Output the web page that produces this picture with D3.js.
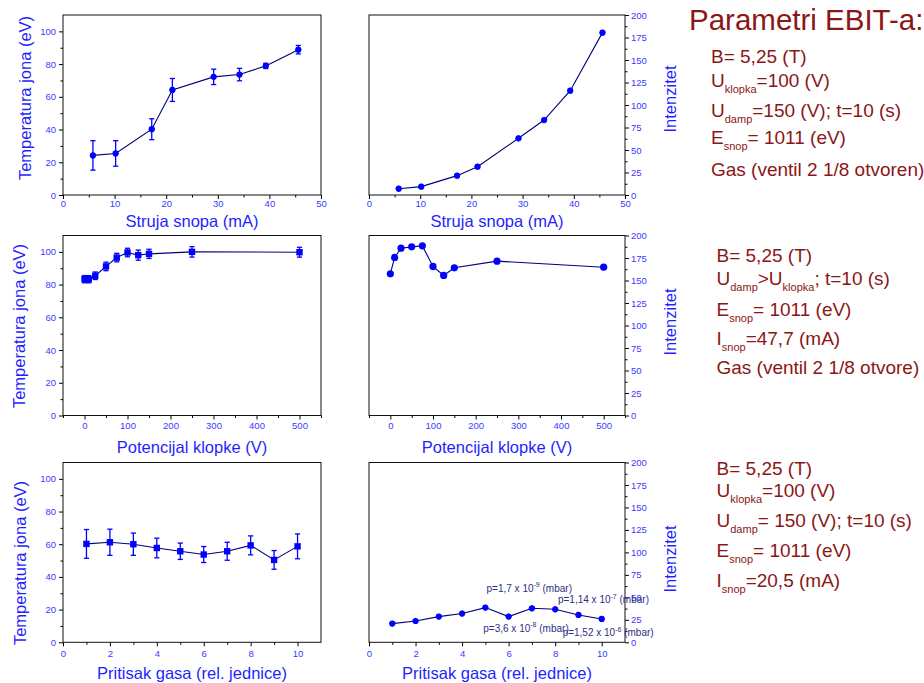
<!DOCTYPE html>
<html>
<head>
<meta charset="utf-8">
<script src="https://cdn.jsdelivr.net/npm/d3@7.9.0/dist/d3.min.js"></script>
<style>
  body { margin: 0; background: #fff; }
  svg { display: block; font-family: "Liberation Sans", Arial, sans-serif; }
</style>
</head>
<body>
<svg id="chart" width="924" height="683"></svg>
<script>
// Row 1: beam current
const strujaX = [5.8, 10.2, 17.2, 21.2, 29.2, 34.2, 39.3, 45.6];
const strujaTemp = [24.2, 25.4, 40.2, 64.2, 72.2, 73.6, 78.9, 88.8];
const strujaTempErr = [9.0, 7.8, 6.4, 7.0, 4.7, 3.8, 1.6, 2.6];
const strujaInt = [7.0, 9.3, 21.5, 31.5, 63.0, 83.3, 115.9, 180.4];

// Row 2: trap potential
const klopkaX = [0, 10, 25, 50, 75, 100, 125, 150, 250, 500];
const klopkaTemp = [83.3, 83.3, 85.4, 91.1, 96.5, 99.6, 98.0, 98.8, 100.0, 99.8];
const klopkaTempErr = [2.2, 2.2, 2.3, 2.6, 2.6, 2.6, 3.1, 2.8, 3.2, 3.0];
const klopkaInt = [157.4, 175.6, 185.9, 187.4, 188.5, 165.6, 155.6, 164.1, 171.5, 164.8];

// Row 3: gas pressure
const gasX = [1, 2, 3, 4, 5, 6, 7, 8, 9, 10];
const gasTemp = [60.2, 61.2, 60.0, 57.7, 55.7, 53.7, 55.7, 59.3, 50.4, 58.7];
const gasTempErr = [8.8, 8.0, 6.8, 6.0, 5.0, 4.9, 5.5, 5.8, 5.7, 7.6];
const gasInt = [20.8, 23.7, 28.6, 32.0, 38.6, 28.6, 37.8, 36.7, 30.4, 26.0];

// pressure notes on the last panel
const pressText = ["p=1,7 x 10", "p=1,14 x 10", "p=3,6 x 10", "p=1,52 x 10"];
const pressExp = ["-9", "-7", "-8", "-6"];
const pressAt = [[5.05, 56], [8.12, 43.7], [4.91, 11.8], [8.32, 7]];

const xTitles = ["Struja snopa (mA)", "Potencijal klopke (V)", "Pritisak gasa (rel. jednice)"];
const tempTitle = "Temperatura jona (eV)";
const intTitle = "Intenzitet";

const svg = d3.select("#chart");
const lineColor = "#00007a";
const markColor = "#0000ff";
const tickColor = "#3a3aff";
const titleColor = "#1f1fff";

const rows = [
  { top: 15, bottom: 195, xDom: [0, 50], xMaj: d3.range(0, 51, 10), xMin: d3.range(5, 50, 10), x: strujaX,
    temp: strujaTemp, err: strujaTempErr, inten: strujaInt, tShape: "diamond", iShape: "diamond",
    tickBase: 207, titleBase: 227, tTitleX: 25, tTitleY: 98, iTitleY: 99 },
  { top: 235.5, bottom: 415.5, xDom: [-50, 550], xMaj: d3.range(0, 501, 100), xMin: d3.range(-50, 551, 100), x: klopkaX,
    temp: klopkaTemp, err: klopkaTempErr, inten: klopkaInt, tShape: "square", iShape: "circle",
    tickBase: 429, titleBase: 453, tTitleX: 19, tTitleY: 326, iTitleY: 322 },
  { top: 462.5, bottom: 642.3, xDom: [0, 11], xMaj: d3.range(0, 11, 2), xMin: d3.range(1, 11, 2), x: gasX,
    temp: gasTemp, err: gasTempErr, inten: gasInt, tShape: "square", iShape: "diamond",
    tickBase: 657, titleBase: 679, tTitleX: 20, tTitleY: 563, iTitleY: 559 }
];

const cols = [{ left: 63, right: 321 }, { left: 369, right: 625 }];

function drawMarks(g, pts, shape) {
  pts.forEach(p => {
    if (shape === "square") {
      g.append("rect").attr("x", p[0] - 3.2).attr("y", p[1] - 3.2)
        .attr("width", 6.4).attr("height", 6.4).attr("fill", markColor);
    } else if (shape === "circle") {
      g.append("circle").attr("cx", p[0]).attr("cy", p[1]).attr("r", 3.6).attr("fill", markColor);
    } else {
      g.append("path").attr("d", d3.symbol(d3.symbolDiamond2, 26)())
        .attr("transform", `translate(${p[0]},${p[1]})`).attr("fill", markColor);
      g.append("circle").attr("cx", p[0]).attr("cy", p[1]).attr("r", 3.1).attr("fill", markColor);
    }
  });
}

function xAxis(g, x, row) {
  g.append("g").attr("transform", `translate(0,${row.bottom})`)
    .call(d3.axisBottom(x).tickValues(row.xMaj).tickSize(4).tickSizeOuter(0).tickPadding(3))
    .call(a => a.select(".domain").remove())
    .call(a => a.selectAll("text").attr("fill", tickColor).attr("font-size", 9.5)
      .attr("dy", null).attr("y", row.tickBase - row.bottom));
  g.append("g").attr("transform", `translate(0,${row.bottom})`)
    .call(d3.axisBottom(x).tickValues(row.xMin).tickSize(2.5).tickSizeOuter(0).tickFormat(""))
    .call(a => a.select(".domain").remove());
}

function frame(g, c, row) {
  g.append("rect").attr("x", c.left).attr("y", row.top)
    .attr("width", c.right - c.left).attr("height", row.bottom - row.top)
    .attr("fill", "none").attr("stroke", "#111").attr("stroke-width", 1);
}

rows.forEach((row, r) => {
  // left panel: ion temperature with error bars
  const cl = cols[0];
  const x = d3.scaleLinear().domain(row.xDom).range([cl.left, cl.right]);
  const y = d3.scaleLinear().domain([0, 110]).range([row.bottom, row.top]);
  const g = svg.append("g");

  g.append("g").attr("transform", `translate(${cl.left},0)`)
    .call(d3.axisLeft(y).tickValues(d3.range(0, 101, 20)).tickSize(4).tickSizeOuter(0).tickPadding(3))
    .call(a => a.select(".domain").remove())
    .call(a => a.selectAll("text").attr("fill", tickColor).attr("font-size", 9.5));
  g.append("g").attr("transform", `translate(${cl.left},0)`)
    .call(d3.axisLeft(y).tickValues(d3.range(10, 110, 20)).tickSize(2.5).tickSizeOuter(0).tickFormat(""))
    .call(a => a.select(".domain").remove());
  xAxis(g, x, row);

  const pts = row.x.map((v, i) => [x(v), y(row.temp[i])]);
  g.append("path").attr("d", d3.line()(pts)).attr("fill", "none")
    .attr("stroke", lineColor).attr("stroke-width", 1.1);

  row.x.forEach((v, i) => {
    const cx = x(v), y0 = y(row.temp[i] - row.err[i]), y1 = y(row.temp[i] + row.err[i]);
    g.append("line").attr("x1", cx).attr("x2", cx).attr("y1", y0).attr("y2", y1)
      .attr("stroke", markColor).attr("stroke-width", 1.3);
    [y0, y1].forEach(yy => g.append("line").attr("x1", cx - 2.6).attr("x2", cx + 2.6)
      .attr("y1", yy).attr("y2", yy).attr("stroke", markColor).attr("stroke-width", 1.3));
  });
  drawMarks(g, pts, row.tShape);
  frame(g, cl, row);

  g.append("text").attr("transform", `translate(${row.tTitleX},${row.tTitleY}) rotate(-90)`)
    .attr("text-anchor", "middle").attr("dy", "0.35em").attr("font-size", 16.5)
    .attr("fill", titleColor).text(tempTitle);
  g.append("text").attr("x", (cl.left + cl.right) / 2).attr("y", row.titleBase)
    .attr("text-anchor", "middle").attr("font-size", 16.5).attr("fill", titleColor).text(xTitles[r]);

  // right panel: intensity on right axis
  const cr = cols[1];
  const x2 = d3.scaleLinear().domain(row.xDom).range([cr.left, cr.right]);
  const y2 = d3.scaleLinear().domain([0, 200]).range([row.bottom, row.top]);
  const h = svg.append("g");

  h.append("g").attr("transform", `translate(${cr.right},0)`)
    .call(d3.axisRight(y2).tickValues(d3.range(0, 201, 25)).tickSize(4).tickSizeOuter(0).tickPadding(2))
    .call(a => a.select(".domain").remove())
    .call(a => a.selectAll("text").attr("fill", tickColor).attr("font-size", 9.5));
  h.append("g").attr("transform", `translate(${cr.right},0)`)
    .call(d3.axisRight(y2).tickValues(d3.range(12.5, 200, 25)).tickSize(2.5).tickSizeOuter(0).tickFormat(""))
    .call(a => a.select(".domain").remove());
  xAxis(h, x2, row);

  const pts2 = row.x.map((v, i) => [x2(v), y2(row.inten[i])]);
  h.append("path").attr("d", d3.line()(pts2)).attr("fill", "none")
    .attr("stroke", lineColor).attr("stroke-width", 1.1);
  drawMarks(h, pts2, row.iShape);
  frame(h, cr, row);

  h.append("text").attr("transform", `translate(670,${row.iTitleY}) rotate(-90)`)
    .attr("text-anchor", "middle").attr("dy", "0.35em").attr("font-size", 16.5)
    .attr("fill", titleColor).text(intTitle);
  h.append("text").attr("x", (cr.left + cr.right) / 2).attr("y", row.titleBase)
    .attr("text-anchor", "middle").attr("font-size", 16.5).attr("fill", titleColor).text(xTitles[r]);

  // pressure notes
  if (r === 2) {
    pressText.forEach((t, i) => {
      const tx = h.append("text").attr("x", x2(pressAt[i][0])).attr("y", y2(pressAt[i][1]))
        .attr("font-size", 10).attr("fill", "#2e2e86");
      tx.append("tspan").text(t);
      tx.append("tspan").attr("dy", -4.5).attr("font-size", 7).text(pressExp[i]);
      tx.append("tspan").attr("dy", 4.5).text(" (mbar)");
    });
  }
});

// right-hand parameter notes
const red = "#8b1616";
svg.append("text").attr("x", 689).attr("y", 29.5).attr("font-size", 29.5)
  .attr("fill", red).text("Parametri EBIT-a:");

const notes1 = [
  [["B= 5,25 (T)"]],
  [["U"], ["klopka", 1], ["=100 (V)"]],
  [["U"], ["damp", 1], ["=150 (V); t=10 (s)"]],
  [["E"], ["snop", 1], ["= 1011 (eV)"]],
  [["Gas (ventil 2 1/8 otvoren)"]]
];
const notes2 = [
  [["B= 5,25 (T)"]],
  [["U"], ["damp", 1], [">U"], ["klopka", 1], ["; t=10 (s)"]],
  [["E"], ["snop", 1], ["= 1011 (eV)"]],
  [["I"], ["snop", 1], ["=47,7 (mA)"]],
  [["Gas (ventil 2 1/8 otvore)"]]
];
const notes3 = [
  [["B= 5,25 (T)"]],
  [["U"], ["klopka", 1], ["=100 (V)"]],
  [["U"], ["damp", 1], ["= 150 (V); t=10 (s)"]],
  [["E"], ["snop", 1], ["= 1011 (eV)"]],
  [["I"], ["snop", 1], ["=20,5 (mA)"]]
];

function noteBlock(lines, x, bases) {
  lines.forEach((segs, i) => {
    const t = svg.append("text").attr("x", x).attr("y", bases[i])
      .attr("font-size", 19).attr("fill", red);
    let down = false;
    segs.forEach(s => {
      const sp = t.append("tspan").text(s[0]);
      if (s[1]) { sp.attr("font-size", 11).attr("dy", 6); down = true; }
      else if (down) { sp.attr("dy", -6); down = false; }
    });
  });
}

noteBlock(notes1, 711, [62.7, 86.7, 116.7, 144, 176]);
noteBlock(notes2, 716.5, [261.7, 285, 316, 345, 374]);
noteBlock(notes3, 716.5, [475, 497.3, 527.3, 556.7, 586.7]);
</script>
</body>
</html>
